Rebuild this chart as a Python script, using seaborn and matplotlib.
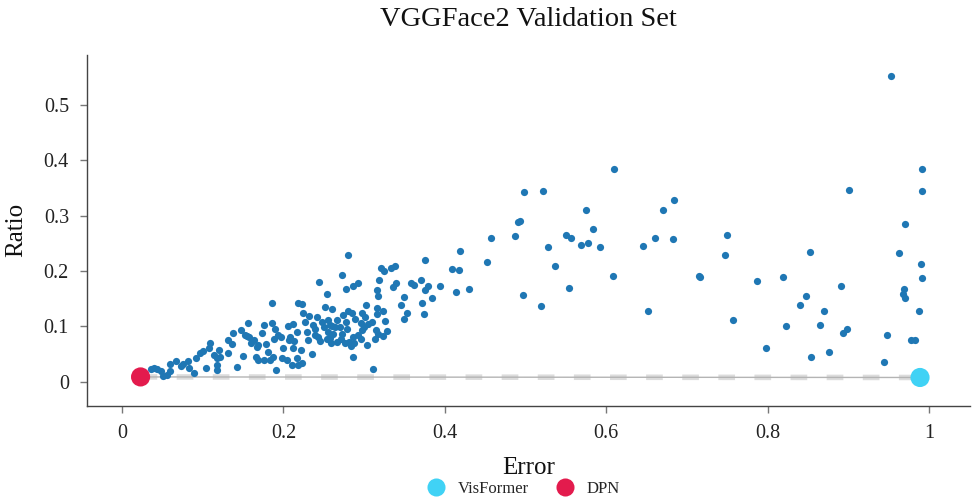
import matplotlib
matplotlib.use("Agg")
import matplotlib.pyplot as plt
import seaborn as sns
import pandas as pd

error = [0.036, 0.040, 0.043, 0.048, 0.051, 0.056, 0.059, 0.059, 0.067, 0.073,
         0.076, 0.082, 0.083, 0.089, 0.092, 0.097, 0.100, 0.104, 0.108, 0.109,
         0.114, 0.118, 0.120, 0.118, 0.118, 0.121, 0.131, 0.131, 0.136, 0.138,
         0.143, 0.147, 0.150, 0.152, 0.155, 0.156, 0.157, 0.160, 0.164, 0.166,
         0.167, 0.169, 0.169, 0.173, 0.176, 0.176, 0.178, 0.181, 0.183, 0.186,
         0.186, 0.190, 0.188, 0.191, 0.187, 0.193, 0.197, 0.198, 0.200, 0.204,
         0.206, 0.208, 0.211, 0.212, 0.212, 0.213, 0.217, 0.218, 0.223, 0.218,
         0.223, 0.222, 0.224, 0.227, 0.229, 0.230, 0.232, 0.235, 0.237, 0.239,
         0.242, 0.243, 0.244, 0.245, 0.248, 0.250, 0.252, 0.254, 0.255, 0.255,
         0.258, 0.260, 0.260, 0.207, 0.217, 0.239, 0.254, 0.258, 0.259, 0.261,
         0.264, 0.266, 0.266, 0.270, 0.271, 0.273, 0.273, 0.274, 0.276, 0.278,
         0.278, 0.279, 0.280, 0.280, 0.281, 0.284, 0.285, 0.286, 0.286, 0.286,
         0.287, 0.289, 0.292, 0.292, 0.296, 0.296, 0.297, 0.297, 0.300, 0.301,
         0.302, 0.304, 0.305, 0.310, 0.311, 0.314, 0.315, 0.316, 0.316, 0.316,
         0.317, 0.317, 0.318, 0.321, 0.323, 0.323, 0.325, 0.326, 0.328, 0.333,
         0.336, 0.338, 0.340, 0.346, 0.349, 0.349, 0.353, 0.358, 0.362, 0.371,
         0.372, 0.374, 0.375, 0.375, 0.379, 0.384, 0.394, 0.409, 0.418, 0.419,
         0.414, 0.430, 0.452, 0.457, 0.487, 0.491, 0.493, 0.498, 0.522, 0.497,
         0.519, 0.528, 0.537, 0.550, 0.556, 0.554, 0.569, 0.575, 0.577, 0.584,
         0.592, 0.608, 0.610, 0.646, 0.660, 0.670, 0.684, 0.683, 0.652, 0.715,
         0.716, 0.750, 0.747, 0.757, 0.787, 0.798, 0.819, 0.823, 0.840, 0.848,
         0.853, 0.854, 0.865, 0.870, 0.876, 0.891, 0.893, 0.898, 0.901, 0.944,
         0.948, 0.963, 0.970, 0.969, 0.968, 0.970, 0.988, 0.978, 0.983, 0.990,
         0.991, 0.991, 0.991, 0.953]
ratio = [0.023, 0.025, 0.023, 0.020, 0.011, 0.013, 0.032, 0.020, 0.038, 0.029,
         0.032, 0.038, 0.025, 0.016, 0.043, 0.052, 0.056, 0.025, 0.061, 0.070,
         0.049, 0.043, 0.058, 0.031, 0.022, 0.045, 0.076, 0.052, 0.069, 0.088,
         0.027, 0.094, 0.047, 0.085, 0.083, 0.107, 0.081, 0.070, 0.076, 0.045,
         0.063, 0.040, 0.067, 0.088, 0.103, 0.040, 0.069, 0.054, 0.040, 0.143,
         0.107, 0.096, 0.078, 0.022, 0.045, 0.085, 0.081, 0.043, 0.061, 0.040,
         0.101, 0.081, 0.031, 0.105, 0.061, 0.074, 0.090, 0.143, 0.141, 0.031,
         0.034, 0.058, 0.125, 0.108, 0.090, 0.076, 0.119, 0.051, 0.103, 0.096,
         0.117, 0.081, 0.181, 0.074, 0.108, 0.099, 0.135, 0.159, 0.112, 0.090,
         0.079, 0.101, 0.132, 0.076, 0.043, 0.085, 0.078, 0.103, 0.070, 0.087,
         0.099, 0.112, 0.072, 0.099, 0.078, 0.193, 0.087, 0.121, 0.070, 0.168,
         0.108, 0.096, 0.229, 0.128, 0.072, 0.065, 0.125, 0.173, 0.081, 0.045,
         0.070, 0.114, 0.179, 0.085, 0.107, 0.078, 0.125, 0.094, 0.099, 0.117,
         0.139, 0.067, 0.105, 0.108, 0.023, 0.078, 0.094, 0.123, 0.134, 0.166,
         0.087, 0.155, 0.184, 0.206, 0.083, 0.128, 0.200, 0.110, 0.092, 0.206,
         0.171, 0.209, 0.179, 0.139, 0.153, 0.114, 0.125, 0.179, 0.175, 0.184,
         0.143, 0.123, 0.220, 0.166, 0.173, 0.152, 0.173, 0.204, 0.202, 0.236,
         0.162, 0.168, 0.217, 0.260, 0.264, 0.289, 0.291, 0.343, 0.345, 0.157,
         0.137, 0.244, 0.209, 0.265, 0.260, 0.170, 0.247, 0.310, 0.251, 0.276,
         0.244, 0.191, 0.384, 0.245, 0.260, 0.310, 0.329, 0.258, 0.128, 0.191,
         0.190, 0.265, 0.229, 0.112, 0.182, 0.061, 0.190, 0.101, 0.139, 0.155,
         0.235, 0.045, 0.103, 0.128, 0.054, 0.173, 0.088, 0.096, 0.347, 0.036,
         0.085, 0.233, 0.285, 0.168, 0.159, 0.152, 0.128, 0.076, 0.076, 0.213,
         0.188, 0.384, 0.345, 0.552]

models = ["VisFormer", "DPN"]
model_error = [0.989, 0.023]
model_ratio = [0.008, 0.009]
model_colors = ["#40d2f5", "#e31b4d"]

front_error = [0.023, 0.989]
front_ratio = [0.009, 0.008]

x_ticks = [0, 0.2, 0.4, 0.6, 0.8, 1.0]
x_labels = ["0", "0.2", "0.4", "0.6", "0.8", "1"]
y_ticks = [0, 0.1, 0.2, 0.3, 0.4, 0.5]
y_labels = ["0", "0.1", "0.2", "0.3", "0.4", "0.5"]

sns.set_theme(style="white")
plt.rcParams["font.family"] = ["Liberation Serif", "DejaVu Serif"]

fig = plt.figure(figsize=(9.72, 5.03), dpi=100)
ax = fig.add_axes([0.0895, 0.193, 0.9085, 0.698])

# front line
ax.plot(front_error, front_ratio, color="#dcdcdc", lw=4.0,
        dashes=(3.0, 3.5), solid_capstyle="butt", zorder=1)
ax.plot(front_error, front_ratio, color="#b4b4b4", lw=1.0, zorder=2)

pts = pd.DataFrame({"Error": error, "Ratio": ratio})
sns.scatterplot(data=pts, x="Error", y="Ratio", ax=ax, color="#1f77b4",
                s=27, linewidth=0, legend=False, zorder=3)

mdf = pd.DataFrame({"Error": model_error, "Ratio": model_ratio, "Model": models})
sns.scatterplot(data=mdf, x="Error", y="Ratio", hue="Model", hue_order=models,
                palette=dict(zip(models, model_colors)), s=190, linewidth=0,
                ax=ax, zorder=4)

ax.set_xlim(-0.0434, 1.051)
ax.set_ylim(-0.0433, 0.590)
ax.set_xticks(x_ticks)
ax.set_xticklabels(x_labels)
ax.set_yticks(y_ticks)
ax.set_yticklabels(y_labels)
ax.tick_params(axis="both", which="major", direction="out", length=5,
               width=1, color="#777777", labelsize=14.5, pad=8,
               bottom=True, left=True, labelcolor="#222222")

for side in ["top", "right"]:
    ax.spines[side].set_visible(False)
for side in ["left", "bottom"]:
    ax.spines[side].set_color("#444444")
    ax.spines[side].set_linewidth(1.0)

ax.set_xlabel("Error", fontsize=18, color="#111111", labelpad=10)
ax.set_ylabel("Ratio", fontsize=18, color="#111111", labelpad=12)
ax.set_title("VGGFace2 Validation Set", fontsize=20.5, color="#111111", pad=21)

handles, labels = ax.get_legend_handles_labels()
leg = ax.legend(handles, labels, loc="center", bbox_to_anchor=(0.49, -0.236),
                ncol=2, frameon=False, fontsize=12,
                handletextpad=0.3, columnspacing=1.2, borderpad=0.1)
for h in leg.legend_handles:
    if hasattr(h, "set_markersize"):
        h.set_markersize(13)
    elif hasattr(h, "set_sizes"):
        h.set_sizes([170])

fig.savefig("out.png", dpi=100)
